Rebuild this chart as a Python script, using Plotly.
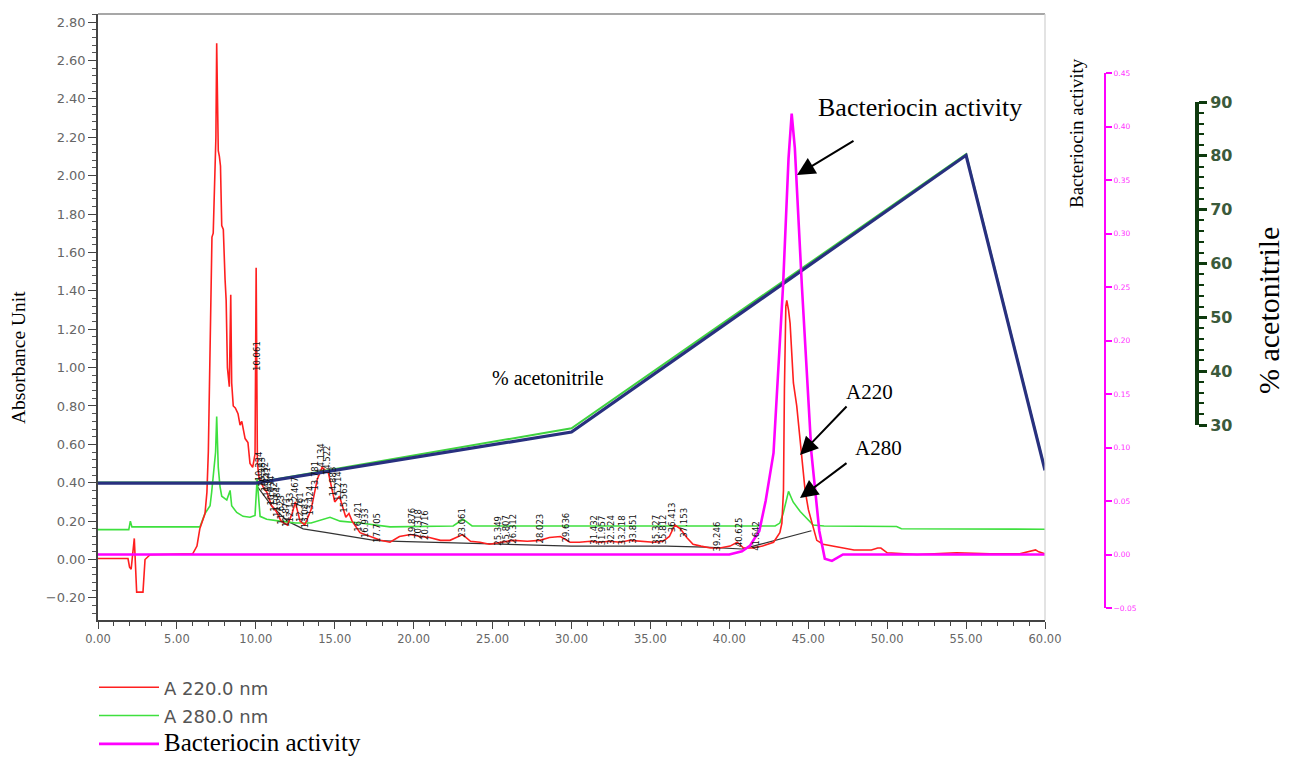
import numpy as np
import plotly.graph_objects as go

# ---- chromatogram data (retention time in min) ----
t220 = [0, 1.9, 2.0, 2.1, 2.3, 2.45, 2.85, 2.98, 3.3, 6.0, 6.27, 6.45, 6.78, 6.9, 6.99,
        7.16, 7.22, 7.3, 7.41, 7.47, 7.52, 7.56, 7.62, 7.69, 7.76, 7.84, 7.94, 8.05, 8.12,
        8.2, 8.32, 8.41, 8.47, 8.57, 8.7, 8.87, 9.0, 9.11, 9.22, 9.32, 9.5, 9.63, 9.8, 9.95,
        10.02, 10.1, 10.2, 10.45, 10.7, 11.0, 11.3, 11.6, 12.0, 12.3, 12.5, 12.8, 13.1, 13.5,
        13.9, 14.2, 14.6, 15.0, 15.3, 15.7, 15.9, 16.1, 16.6, 17.2, 17.9, 18.5, 19.1, 19.8,
        20.4, 21.0, 21.7, 22.3, 23.1, 23.6, 24.2, 24.8, 25.5, 26.3, 27.2, 28.0, 28.6, 29.3,
        29.9, 30.5, 31.2, 31.8, 32.4, 33.1, 33.7, 34.4, 35.2, 35.8, 36.2, 36.55, 36.9, 37.3,
        37.7, 38.2, 38.8, 39.4, 40.05, 40.5, 40.9, 41.5, 42.1, 42.8, 43.2, 43.33, 43.43,
        43.49, 43.58, 43.64, 43.75, 43.85, 43.96, 44.06, 44.27, 44.44, 44.59, 44.8, 45.01,
        45.23, 45.54, 45.94, 46.6, 47.9, 49.0, 49.4, 49.6, 50.0, 51.9, 54.4, 56.5, 58.4,
        59.4, 59.6, 60.0]
a220 = [0.005, 0.005, -0.04, -0.05, 0.11, -0.17, -0.17, 0.0, 0.025, 0.03, 0.07, 0.16, 0.24,
        0.35, 0.56, 1.44, 1.68, 1.70, 2.07, 2.2, 2.69, 2.4, 2.13, 2.1, 2.05, 1.74, 1.72, 1.46,
        1.35, 1.0, 0.9, 1.38, 0.92, 0.8, 0.79, 0.76, 0.7, 0.72, 0.66, 0.63, 0.61, 0.5, 0.48,
        0.55, 1.52, 0.5, 0.43, 0.38, 0.35, 0.28, 0.25, 0.2, 0.18, 0.24, 0.3, 0.2, 0.18, 0.26,
        0.42, 0.48, 0.45, 0.3, 0.33, 0.22, 0.24, 0.2, 0.14, 0.12, 0.10, 0.09, 0.12, 0.13,
        0.12, 0.115, 0.10, 0.10, 0.13, 0.095, 0.09, 0.08, 0.09, 0.10, 0.095, 0.10, 0.115,
        0.12, 0.09, 0.09, 0.095, 0.09, 0.095, 0.09, 0.10, 0.095, 0.09, 0.095, 0.12, 0.18,
        0.16, 0.115, 0.08, 0.07, 0.06, 0.06, 0.07, 0.09, 0.06, 0.06, 0.07, 0.09, 0.14, 0.19,
        0.36, 0.89, 1.32, 1.35, 1.3, 1.23, 1.06, 0.92, 0.80, 0.66, 0.57, 0.36, 0.26, 0.19,
        0.10, 0.08, 0.07, 0.05, 0.05, 0.06, 0.06, 0.035, 0.026, 0.035, 0.03, 0.03, 0.05,
        0.04, 0.03]

t280 = [0, 1.95, 2.05, 2.15, 2.3, 6.3, 6.46, 6.78, 7.1, 7.2, 7.31, 7.45, 7.52, 7.62, 7.73,
        7.84, 8.16, 8.37, 8.47, 8.79, 9.19, 9.63, 9.95, 10.08, 10.27, 10.69, 11.53, 12.5,
        13.5, 14.7, 15.34, 16.6, 18.5, 22.5, 23.13, 23.7, 30.0, 40.0, 42.9, 43.2, 43.41,
        43.75, 44.04, 44.49, 44.93, 45.31, 46.0, 50.6, 50.9, 55.0, 60.0]
a280 = [0.156, 0.156, 0.2, 0.17, 0.17, 0.17, 0.17, 0.24, 0.28, 0.35, 0.45, 0.56, 0.745,
        0.48, 0.38, 0.33, 0.31, 0.36, 0.28, 0.245, 0.225, 0.22, 0.23, 0.42, 0.225, 0.21,
        0.2, 0.19, 0.19, 0.22, 0.2, 0.19, 0.17, 0.175, 0.21, 0.175, 0.175, 0.172, 0.175,
        0.19, 0.24, 0.355, 0.30, 0.25, 0.21, 0.18, 0.175, 0.172, 0.16, 0.158, 0.158]

# integration baseline drawn by the data system
t_base = [10.1, 11.0, 12.0, 13.0, 14.5, 16.0, 17.5, 19.0, 21.0, 23.0, 25.0, 27.0, 30.0,
          33.0, 36.0, 38.5, 40.8, 42.0, 43.3, 45.2]
a_base = [0.38, 0.28, 0.2, 0.16, 0.14, 0.12, 0.1, 0.095, 0.09, 0.085, 0.08, 0.075, 0.07,
          0.07, 0.07, 0.065, 0.055, 0.08, 0.11, 0.15]

# integrated peaks (retention times printed above the trace)
peak_rt = [10.061, 10.224, 10.383, 10.552, 10.741, 10.934, 11.152, 11.384, 11.623, 11.871,
           12.133, 12.467, 12.761, 13.083, 13.424, 13.781, 14.134, 14.522, 14.883, 15.214,
           15.563, 16.421, 16.933, 17.705, 19.876, 20.318, 20.716, 23.061, 25.349, 25.807,
           26.312, 28.023, 29.636, 31.432, 31.957, 32.524, 33.218, 33.851, 35.327, 35.812,
           36.413, 37.153, 39.246, 40.625, 41.642]

# bacteriocin activity of collected fractions
t_bac = [0, 40.0, 40.8, 41.3, 41.9, 42.3, 42.8, 43.4, 43.75, 43.95, 44.15, 44.6, 45.2,
         45.7, 46.05, 46.5, 47.2, 60]
activity = [0, 0, 0.003, 0.008, 0.022, 0.05, 0.095, 0.25, 0.37, 0.412, 0.38, 0.25, 0.095,
            0.022, -0.004, -0.006, 0.0, 0.0]

# acetonitrile gradient (programmed and delivered)
t_grad = [0, 10, 30, 55, 60]
acn_prog = [19.2, 19.2, 28.7, 80.1, 21.6]
acn_deliv = [19.3, 19.3, 29.4, 80.3, 21.7]

W, H = 1289, 758
fx = lambda px: px / W
fy = lambda py: 1 - py / H

SERIF = "Liberation Serif"
SANS = "DejaVu Sans"

fig = go.Figure()

fig.add_trace(go.Scatter(x=t_grad, y=acn_deliv, mode="lines", yaxis="y4",
                         line=dict(color="#3fd23f", width=2), showlegend=False, hoverinfo="skip"))
fig.add_trace(go.Scatter(x=t_grad, y=acn_prog, mode="lines", yaxis="y4",
                         line=dict(color="#28307f", width=3.2), showlegend=False, hoverinfo="skip"))

fig.add_trace(go.Scatter(x=t_base, y=a_base, mode="lines", line=dict(color="#333333", width=1.2),
                         showlegend=False, hoverinfo="skip"))
fig.add_trace(go.Scatter(
    x=t280, y=a280, mode="lines", line=dict(color="#3ee03e", width=1.6), legendrank=2,
    name='<span style="font-family:DejaVu Sans;font-size:18px;fill:#555555">A 280.0 nm</span>'))
fig.add_trace(go.Scatter(
    x=t220, y=a220, mode="lines", line=dict(color="#ff1f1f", width=1.6), legendrank=1,
    name='<span style="font-family:DejaVu Sans;font-size:18px;fill:#555555">A 220.0 nm</span>'))
fig.add_trace(go.Scatter(x=t_bac, y=activity, mode="lines", yaxis="y3", legendrank=3,
                         line=dict(color="#ff00ff", width=2.6),
                         name='<span style="font-size:25px">Bacteriocin activity</span>'))
# carrier for the stand-alone % acetonitrile scale
fig.add_trace(go.Scatter(x=[None], y=[None], yaxis="y5", showlegend=False, hoverinfo="skip"))

x_dom = [fx(98), fx(1045)]
y_dom = [fy(620), fy(14)]

fig.update_layout(
    width=W, height=H,
    margin=dict(l=0, r=0, t=0, b=0, autoexpand=False),
    paper_bgcolor="white", plot_bgcolor="rgba(0,0,0,0)",
    xaxis=dict(domain=x_dom, range=[0, 60], dtick=5, tick0=0, tickformat=".2f",
               ticks="outside", ticklen=7, tickcolor="#444", tickwidth=1.3,
               minor=dict(dtick=1, ticks="outside", ticklen=4, tickcolor="#444"),
               showline=True, linecolor="#444", linewidth=1.5, showgrid=False,
               zeroline=False, tickfont=dict(family=SANS, size=11.5, color="#666666"),
               anchor="y"),
    yaxis=dict(domain=y_dom, range=[-0.315, 2.842], dtick=0.2, tick0=0, tickformat=".2f",
               ticks="outside", ticklen=8, tickcolor="#444", tickwidth=1.3,
               minor=dict(dtick=0.04, ticks="outside", ticklen=4, tickcolor="#555"),
               showline=True, linecolor="#444", linewidth=1.5, showgrid=False,
               zeroline=False, tickfont=dict(family=SANS, size=13, color="#666666"),
               anchor="x"),
    yaxis3=dict(domain=[fy(608), fy(73)], range=[-0.05, 0.45], dtick=0.05, tick0=0,
                tickformat=".2f", anchor="free", position=fx(1105), side="right",
                showline=True, linecolor="#ff00ff", linewidth=2,
                ticks="outside", ticklen=6, tickwidth=1.5, tickcolor="#ff00ff",
                tickfont=dict(family=SANS, size=7.5, color="#ff33ff"),
                showgrid=False, zeroline=False),
    yaxis4=dict(overlaying="y", range=[-6.22, 106.35], visible=False, anchor="x"),
    yaxis5=dict(domain=[fy(425), fy(102)], range=[30, 90], dtick=10, tick0=30,
                anchor="free", position=fx(1197), side="right",
                showline=True, linecolor="#0e3a0e", linewidth=4,
                ticks="outside", ticklen=8, tickwidth=3, tickcolor="#0e3a0e",
                minor=dict(dtick=2, ticks="outside", ticklen=5, tickwidth=2,
                           tickcolor="#0e3a0e"),
                tickfont=dict(family=SANS, size=16, color="#3b5a3b", weight="bold"),
                showgrid=False, zeroline=False),
    legend=dict(x=fx(94), y=fy(668), xanchor="left", yanchor="top",
                font=dict(family=SERIF, size=19.5, color="black"),
                itemwidth=60, tracegroupgap=0, traceorder="normal",
                bgcolor="rgba(0,0,0,0)"),
    showlegend=True,
)

# plot frame: top and right borders
fig.add_shape(type="line", xref="x domain", yref="y domain", x0=0, x1=1, y0=1, y1=1,
              line=dict(color="#8a8a8a", width=1.5))
fig.add_shape(type="line", xref="x domain", yref="y domain", x0=1, x1=1, y0=0, y1=1,
              line=dict(color="#d0d0d0", width=1.2))

ann = []
# axis titles
ann.append(dict(text="Absorbance Unit", x=fx(18), y=fy(358), textangle=-90,
                font=dict(family=SERIF, size=19.5, color="black")))
ann.append(dict(text="Bacteriocin activity", x=fx(1077), y=fy(133), textangle=-90,
                font=dict(family=SERIF, size=19, color="black")))
ann.append(dict(text="% acetonitrile", x=fx(1268), y=fy(311), textangle=-90,
                font=dict(family=SERIF, size=30, color="black")))
# in-plot labels
ann.append(dict(text="Bacteriocin activity", x=fx(920), y=fy(107),
                font=dict(family=SERIF, size=26, color="black")))
ann.append(dict(text="% acetonitrile", x=fx(548), y=fy(378),
                font=dict(family=SERIF, size=20, color="black")))
ann.append(dict(text="A220", x=fx(870), y=fy(392),
                font=dict(family=SERIF, size=21, color="black")))
ann.append(dict(text="A280", x=fx(878), y=fy(448),
                font=dict(family=SERIF, size=21, color="black")))
for a in ann:
    a.update(xref="paper", yref="paper", showarrow=False, xanchor="center", yanchor="middle")

# arrows
for (hx, hy, tx, ty) in [(797, 175, 855, 140), (800, 455, 848, 405), (800, 498, 848, 462)]:
    ann.append(dict(text="", x=fx(hx), y=fy(hy), xref="paper", yref="paper",
                    showarrow=True, ax=tx - hx, ay=ty - hy, arrowhead=2, arrowsize=1.8,
                    arrowwidth=2, arrowcolor="black", standoff=0))

# retention time labels
for rt in peak_rt:
    yv = float(np.interp(rt, t220, a220))
    ann.append(dict(text=f"{rt:.3f}", x=rt, y=yv, xref="x", yref="y", showarrow=False,
                    textangle=-90, yanchor="middle", xanchor="center", yshift=12,
                    font=dict(family=SANS, size=8.5, color="#111111")))

fig.update_layout(annotations=ann)

fig.write_html("out.html")
